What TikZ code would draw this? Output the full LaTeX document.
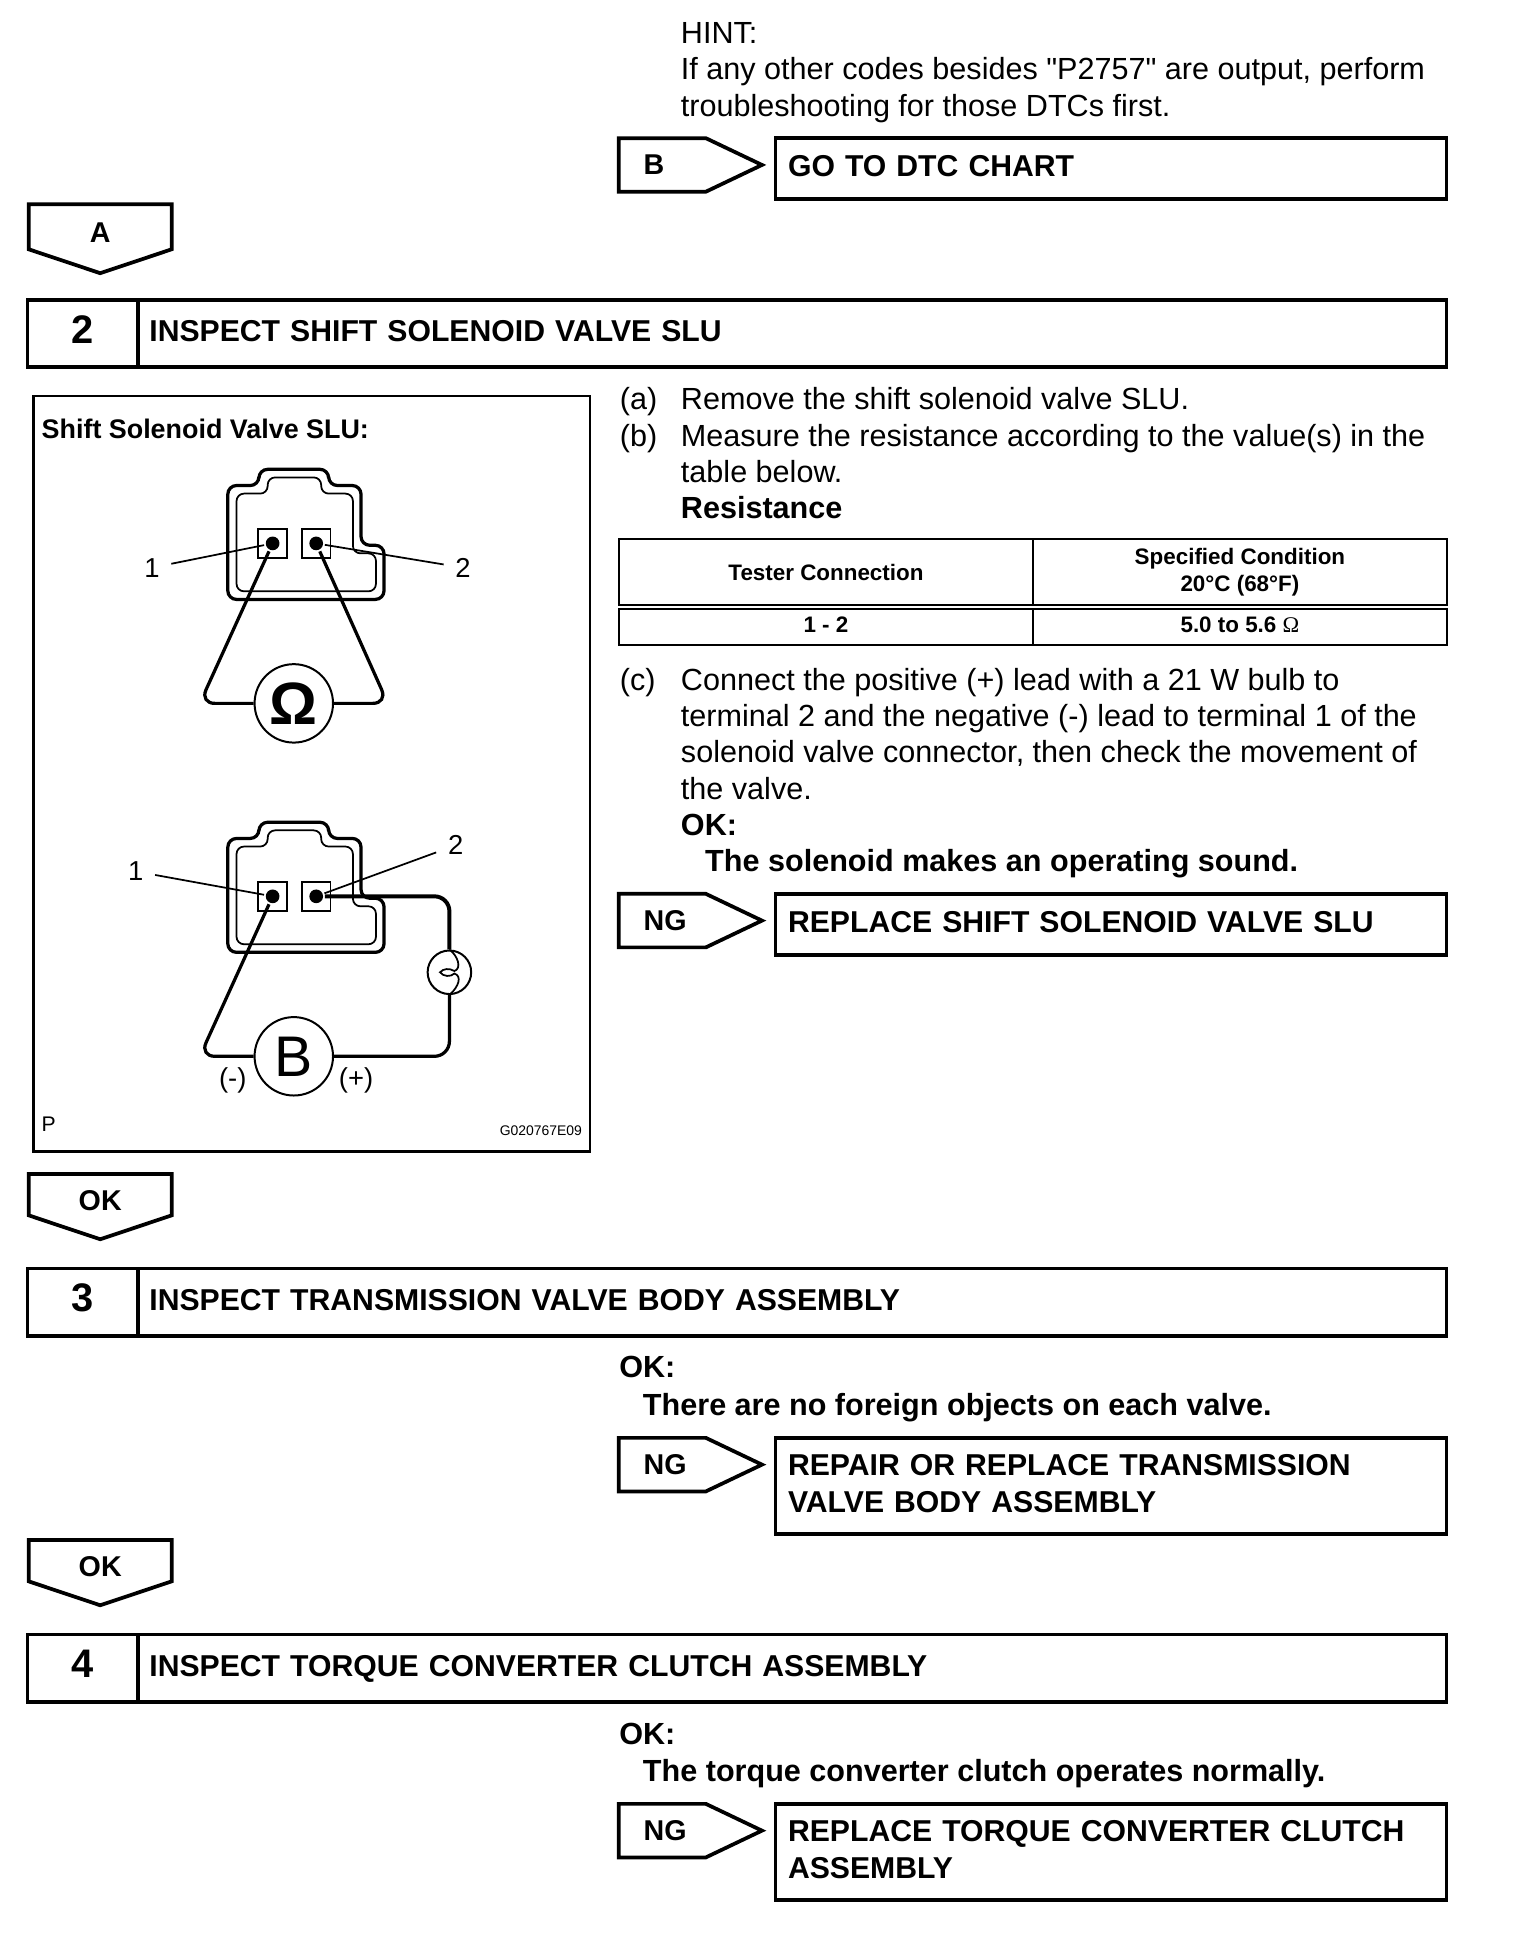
\documentclass[tikz,border=0pt]{standalone}
\usepackage{fontspec}
\setmainfont{Liberation Sans}
\newfontfamily\serifomega{Liberation Serif}
\newfontfamily\straightquote{Liberation Sans}
\usepackage{tikz}
\usetikzlibrary{positioning,shapes.symbols}

\tikzset{
  connector/.pic={
    \draw[line width=1.3pt, rounded corners=3.5pt] (183,390) -- (208,390) -- (208,377) -- (264,377) -- (264,390)
      -- (290,390) -- (290,438) -- (308.5,438) -- (308.5,481.5) -- (183,481.5) -- cycle;
    \draw[line width=0.7pt, rounded corners=3pt] (190,396.5) -- (215,396.5) -- (215,383.5) -- (258,383.5) -- (258,396.5)
      -- (283.5,396.5) -- (283.5,444.5) -- (302,444.5) -- (302,475) -- (190,475) -- cycle;
    \node[termbox] (-term1) at (219,436.5) {};
    \node[termbox] (-term2) at (254,436.5) {};
    \node[termdot] (-dot1) at (219,436.5) {};
    \node[termdot] (-dot2) at (254,436.5) {};
  }
}

\begin{document}
\begin{tikzpicture}[x=0.5pt, y=-0.5pt, line width=1.5pt]
  \tikzstyle{body}=[anchor=north west, inner sep=0pt, align=left, font=\fontsize{12.28}{14.6}\selectfont]
  \tikzstyle{bodybold}=[body, font=\fontsize{12.28}{14.6}\selectfont\bfseries]
  \tikzstyle{boxtext}=[font=\fontsize{12.12}{14.65}\selectfont\bfseries]
  \tikzstyle{tagtext}=[font=\fontsize{11.5}{14.65}\selectfont\bfseries]
  \tikzstyle{endbox}=[draw, anchor=north west, inner xsep=5pt, inner ysep=0pt, outer sep=0pt, boxtext,
    align=left, minimum width=269.5pt, text width=259.5pt, minimum height=24.5pt, text depth=2pt]
  \tikzstyle{endboxtwo}=[endbox, minimum height=38.5pt, text depth=16.65pt]
  \tikzstyle{tagright}=[draw, shape=signal, signal to=east, signal from=nowhere, signal pointer angle=51,
    anchor=west, inner xsep=5pt, inner ysep=0pt, outer sep=0pt, minimum height=21.5pt, text width=25pt, align=left,
    tagtext, execute at begin node={\hspace*{5pt}}]
  \tikzstyle{tagdown}=[draw, shape=signal, signal to=south, signal from=nowhere, signal pointer angle=143,
    anchor=north, inner sep=0pt, outer sep=0pt, minimum width=57.5pt, minimum height=19.5pt, text height=12.8pt, tagtext]
  \tikzstyle{stepnum}=[draw, anchor=north west, inner sep=0pt, outer sep=0pt, minimum width=44.5pt, minimum height=27pt,
    text depth=3.5pt, font=\fontsize{16}{16}\selectfont\bfseries]
  \tikzstyle{steptitle}=[draw, inner xsep=4.5pt, inner ysep=0pt, outer sep=0pt, minimum height=27pt, minimum width=525.5pt,
    text width=516.5pt, align=left, text depth=2pt, boxtext]
  \tikzstyle{cell}=[draw, anchor=north west, inner sep=0pt, outer sep=0pt, align=center, line width=0.8pt,
    font=\fontsize{9}{11}\selectfont\bfseries]
  \tikzstyle{termbox}=[draw, line width=0.7pt, inner sep=0pt, minimum size=11.5pt]
  \tikzstyle{termdot}=[circle, fill=black, inner sep=0pt, minimum size=5.5pt]
  \tikzstyle{wire}=[line width=1.3pt, rounded corners=6pt]
  \tikzstyle{leader}=[line width=0.7pt]
  \tikzstyle{meter}=[draw, circle, line width=0.8pt, inner sep=0pt, minimum size=31.5pt]
  \tikzstyle{small}=[inner sep=4pt, font=\fontsize{11}{12}\selectfont]

  \useasboundingbox (0,0) rectangle (1234,1568);

  % Top: hint and first exit
  \node[body] (hint) at (545.5,16.5) {HINT:\\If any other codes besides {\straightquote"}P2757{\straightquote"} are output, perform\\troubleshooting for those DTCs first.};
  \node[tagright] (tagb) at (497,132.5) {B};
  \node[endbox] (dtcchart) at (623,111) {GO TO DTC CHART};
  \node[tagdown] (taga) at (80.5,164) {A};

  % Step 2
  \node[stepnum] (num2) at (22,241) {2};
  \node[steptitle, right=0pt of num2] (title2) {INSPECT SHIFT SOLENOID VALVE SLU};

  % Left: panel with the two connector views
  \node[draw, line width=1pt, anchor=north west, inner sep=0pt, outer sep=0pt, minimum width=223.5pt, minimum height=303.5pt] (panel) at (27,318) {};
  \node[anchor=west, inner sep=0pt, font=\fontsize{10.8}{12}\selectfont\bfseries] (paneltitle) at (32,344.5) {Shift Solenoid Valve SLU:};

  \pic (cona) at (0,0) {connector};
  \node[meter, font=\fontsize{24}{24}\selectfont\bfseries] (meterohm) at (236,565) {Ω};
  \node[small] (lbla1) at (122,456) {1};
  \node[small] (lbla2) at (372,456) {2};
  \draw[leader] (lbla1) -- (cona-dot1);
  \draw[leader] (lbla2) -- (cona-dot2);
  \draw[wire] (cona-dot1) -- (160.5,565) -- (meterohm);
  \draw[wire] (cona-dot2) -- (311.5,565) -- (meterohm);

  \pic (conb) at (0,283.5) {connector};
  \node[meter, font=\fontsize{23}{23}\selectfont] (meterbatt) at (236,848.5) {B};
  \node[draw, circle, line width=0.8pt, inner sep=0pt, minimum size=17.5pt] (bulb) at (361,781) {};
  \node[small] (lblb1) at (109,700) {1};
  \node[small] (lblb2) at (366,679) {2};
  \draw[leader] (lblb1) -- (conb-dot1);
  \draw[leader] (lblb2) -- (conb-dot2);
  \draw[wire] (conb-dot1) -- (160.5,848.5) -- (meterbatt);
  \draw[wire, line width=1.6pt] (conb-dot2) -- (361,720) -- (bulb);
  \draw[wire] (bulb) -- (361,848.5) -- (meterbatt);
  \draw[line width=0.7pt] (bulb.north) .. controls (368,768) and (371,778) .. (365,780)
    .. controls (361,777.5) and (356,778) .. (353.5,781) .. controls (356,784.5) and (362,785) .. (365,782)
    .. controls (371,784) and (369,792) .. (bulb.south);
  \node[small, inner sep=0pt] (minus) at (187,867.5) {(-)};
  \node[small, inner sep=0pt] (plus) at (286,867.5) {(+)};
  \node[anchor=west, inner sep=0pt, font=\fontsize{8.5}{10}\selectfont] (panelp) at (32,903) {P};
  \node[anchor=east, inner sep=0pt, font=\fontsize{5.6}{7}\selectfont] (panelcode) at (469,908) {G020767E09};

  % Right: procedure and table
  \node[body] (itema) at (496.5,310) {(a)};
  \node[body] (texta) at (545.5,310) {Remove the shift solenoid valve SLU.};
  \node[body] (itemb) at (496.5,339) {(b)};
  \node[body] (textb) at (545.5,339) {Measure the resistance according to the value(s) in the\\table below.\\\textbf{Resistance}};

  \node[cell, minimum width=166.5pt, minimum height=26.5pt] (head1) at (497,433) {Tester Connection};
  \node[cell, minimum width=166pt, minimum height=26.5pt, right=0pt of head1] (head2) {Specified Condition\\20°C (68°F)};
  \node[cell, minimum width=166.5pt, minimum height=14.5pt, text depth=1.5pt] (row1) at (497,489) {1 - 2};
  \node[cell, minimum width=166pt, minimum height=14.5pt, text depth=1.5pt, right=0pt of row1] (row2) {5.0 to 5.6 {\serifomega\mdseries Ω}};

  \node[body] (itemc) at (496.5,535) {(c)};
  \node[body] (textc) at (545.5,535) {Connect the positive (+) lead with a 21 W bulb to\\terminal 2 and the negative (-) lead to terminal 1 of the\\solenoid valve connector, then check the movement of\\the valve.\\\textbf{OK:}};
  \node[bodybold] (sound) at (565,681) {The solenoid makes an operating sound.};
  \node[tagright] (tagng2) at (497,739.5) {NG};
  \node[endbox] (replaceslu) at (623,718) {REPLACE SHIFT SOLENOID VALVE SLU};
  \node[tagdown] (tagok2) at (80.5,943) {OK};

  % Step 3
  \node[stepnum] (num3) at (22,1019) {3};
  \node[steptitle, right=0pt of num3] (title3) {INSPECT TRANSMISSION VALVE BODY ASSEMBLY};
  \node[bodybold] (ok3) at (496,1088) {OK:};
  \node[bodybold] (objects) at (515,1118) {There are no foreign objects on each valve.};
  \node[tagright] (tagng3) at (497,1176.5) {NG};
  \node[endboxtwo] (repairbody) at (623,1155) {REPAIR OR REPLACE TRANSMISSION\\VALVE BODY ASSEMBLY};
  \node[tagdown] (tagok3) at (80.5,1237) {OK};

  % Step 4
  \node[stepnum] (num4) at (22,1313) {4};
  \node[steptitle, right=0pt of num4] (title4) {INSPECT TORQUE CONVERTER CLUTCH ASSEMBLY};
  \node[bodybold] (ok4) at (496,1383) {OK:};
  \node[bodybold] (clutch) at (515,1412) {The torque converter clutch operates normally.};
  \node[tagright] (tagng4) at (497,1470.5) {NG};
  \node[endboxtwo] (replaceclutch) at (623,1449) {REPLACE TORQUE CONVERTER CLUTCH\\ASSEMBLY};
\end{tikzpicture}
\end{document}
